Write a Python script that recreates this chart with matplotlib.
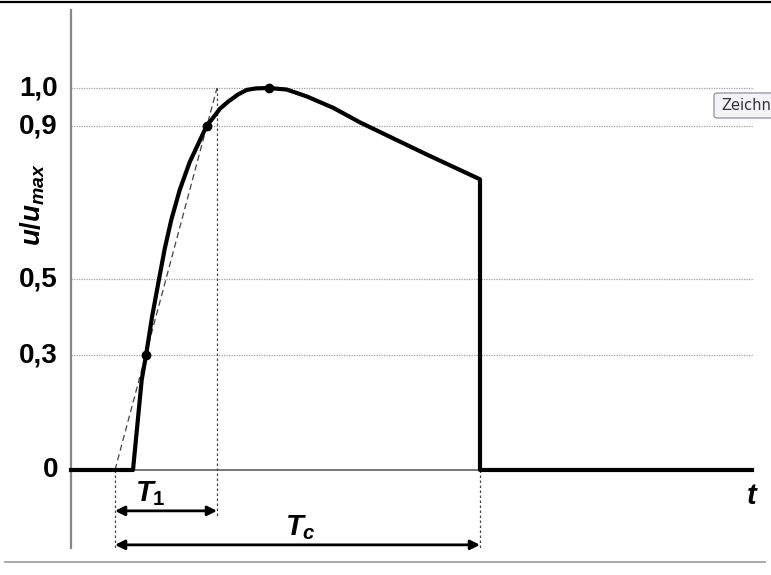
import matplotlib
matplotlib.use('Agg')
import matplotlib.pyplot as plt
from matplotlib.lines import Line2D
from matplotlib.patches import FancyBboxPatch

plt.rcParams['font.family'] = ['Liberation Sans', 'DejaVu Sans']
plt.rcParams['mathtext.fontset'] = 'custom'
plt.rcParams['mathtext.it'] = 'Liberation Sans:bold:italic'
plt.rcParams['mathtext.rm'] = 'Liberation Sans:bold'
plt.rcParams['mathtext.bf'] = 'Liberation Sans:bold'

# Impulsverlauf (t in willkuerlichen Einheiten, u/umax)
t_rise = [62, 70.7, 75, 81, 87.7, 93.7, 100.3, 108.7, 118.7, 128.7, 135.5,
          145.3, 149, 157, 162.3, 167, 175.7, 185, 198]
u_rise = [0.0, 0.236, 0.3, 0.40, 0.495, 0.579, 0.655, 0.733, 0.806, 0.862, 0.9,
          0.933, 0.946, 0.964, 0.974, 0.983, 0.995, 0.999, 1.0]
t_fall = [215.7, 235.7, 262.3, 289, 322.3, 355.7, 409]
u_fall = [0.996, 0.978, 0.948, 0.91, 0.868, 0.826, 0.761]
t_end = 409
t_right = 681

key_t = [75, 135.5, 198]
key_u = [0.3, 0.9, 1.0]

grid_levels = [1.0, 0.9, 0.5, 0.3]
tick_levels = [1.0, 0.9, 0.5, 0.3, 0.0]
tick_labels = ['1,0', '0,9', '0,5', '0,3', '0']

# Tangente durch 0,3 und 0,9
t_tan = [44, 146]
u_tan = [0.0, 1.0]
t1_start, t1_end = 44, 146

fig = plt.figure(figsize=(7.71, 5.75), dpi=100)
ax = fig.add_axes([0, 0, 1, 1])
ax.set_xlim(-71, 700)
ax.set_ylim(-0.2749, 1.2304)
ax.axis('off')

# Gitterlinien
for lv in grid_levels:
    ax.plot([0, t_right + 1], [lv, lv], color='#a0a0a0', lw=0.9, ls=(0, (1, 1)), zorder=1)

# Achsen
ax.plot([0, 0], [-0.204, 1.204], color='#888888', lw=1.6, zorder=2)
ax.plot([0, t_right], [0, 0], color='#777777', lw=1.4, zorder=2)

# Tangente und Hilfslinien
ax.plot(t_tan, u_tan, color='#444444', lw=0.9, ls=(0, (5, 3)), zorder=3)
ax.plot([t1_start, t1_start], [0, -0.204], color='#444444', lw=0.9, ls=(0, (2, 2)), zorder=3)
ax.plot([t1_end, t1_end], [1.0, -0.126], color='#444444', lw=0.9, ls=(0, (2, 2)), zorder=3)
ax.plot([t_end, t_end], [0, -0.204], color='#444444', lw=0.9, ls=(0, (2, 2)), zorder=3)

# Kurve
curve_t = [0] + t_rise + t_fall + [t_end, t_right]
curve_u = [0] + u_rise + u_fall + [0, 0]
ax.plot(curve_t, curve_u, color='black', lw=3, solid_joinstyle='round', zorder=4)
ax.plot(key_t, key_u, 'o', color='black', ms=6, zorder=5)

# Pfeile
arrow_kw = dict(arrowstyle='<|-|>', color='black', lw=2, mutation_scale=14,
                shrinkA=0, shrinkB=0)
ax.annotate('', xy=(t1_end, -0.107), xytext=(t1_start, -0.107), arrowprops=arrow_kw)
ax.annotate('', xy=(t_end, -0.196), xytext=(t1_start, -0.196), arrowprops=arrow_kw)

ax.text(79, -0.062, r'$T_1$', fontsize=21, ha='center', va='center')
ax.text(229, -0.150, r'$T_c$', fontsize=21, ha='center', va='center')
ax.text(681, -0.068, r'$t$', fontsize=21, ha='center', va='center')

for lv, lb in zip(tick_levels, tick_labels):
    ax.text(-13, lv, lb, fontsize=20, fontweight='bold', ha='right', va='center')

ax.text(-38, 0.694, r'$u/u_{max}$', fontsize=20, rotation=90, ha='center', va='center')

# Bildschirmreste
fig.add_artist(Line2D([0, 1], [1 - 2 / 575, 1 - 2 / 575], color='black', lw=1.6))
fig.add_artist(Line2D([5 / 771, 765 / 771], [1 - 562 / 575, 1 - 562 / 575],
                      color='#999999', lw=1.2))
fig.add_artist(FancyBboxPatch((714 / 771, 1 - 118 / 575), 70 / 771, 25 / 575,
                              boxstyle='round,pad=0,rounding_size=0.005',
                              fc='#f4f4f6', ec='#9a9aa8', lw=1))
fig.text(721 / 771, 1 - 105.5 / 575, 'Zeichn', fontsize=10.5, color='#333333',
         family='DejaVu Sans', va='center', ha='left')

fig.savefig('out.png', dpi=100)
